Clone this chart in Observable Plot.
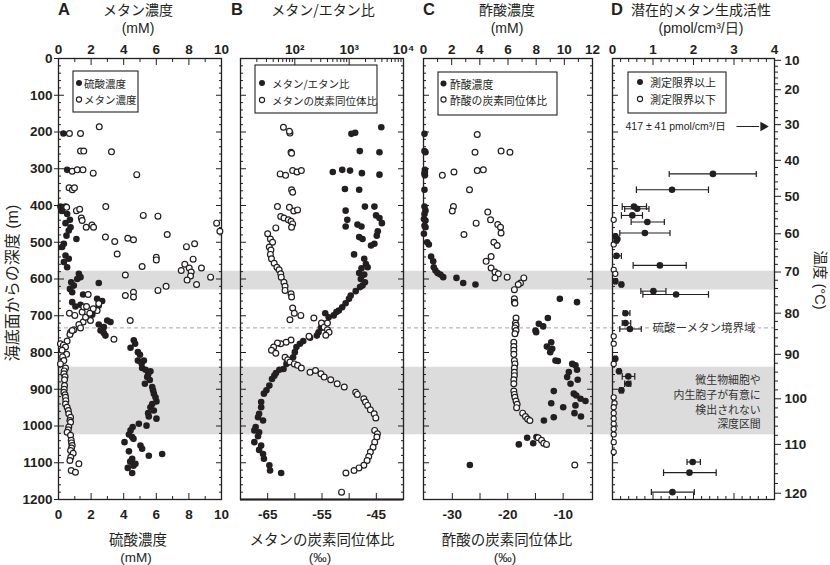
<!DOCTYPE html>
<html><head><meta charset="utf-8">
<script src="https://cdn.jsdelivr.net/npm/d3@7"></script>
<script src="https://cdn.jsdelivr.net/npm/@observablehq/plot@0.6"></script>
<style>
html,body{margin:0;padding:0;background:#fff;}
#chart{position:relative;width:830px;height:565px;overflow:hidden;background:#fff;}
#chart svg{position:absolute;left:0;top:0;}
</style></head><body><div id="chart"></div>
<script>
// ---------------- DATA (depth in m below seafloor) ----------------
// Panel A: sulfate (filled, bottom axis) and methane (open, top axis), [depth, mM]
const sulfateA = [[204,0.3],[303,0.53],[403,0.12],[403,0.43],[415,0.22],[423,0.53],[439,0.7],[448,0.43],[459,0.74],[468,0.63],[482,0.49],[491,1.1],[504,0.33],[513,0.22],
[536,0.43],[545,0.63],[554,0.33],[568,0.53],[586,1.25],[595,1.35],[600,1.15],[609,0.78],[618,0.94],[611,2.47],[627,0.7],[636,0.84],[642,1.51],
[663,0.84],[670,1.35],[675,1.04],[654,2.37],[660,2.68],[672,2.47],[686,2.27],[697,2.07],[713,2.99],[717,3.19],[724,2.47],[731,2.78],[740,2.58],[747,2.78],[754,2.88],
[767,4.62],[776,4.7],[787,4.42],[799,4.87],[806,5.0],[822,4.87],[822,5.24],[830,5.1],[842,5.13],[847,5.34],[851,5.64],[860,5.5],[867,5.44],[875,5.6],[885,5.3],[894,5.75],[903,5.8],[912,5.85],[922,5.95],[933,6.01],[940,5.75],[949,5.64],[958,5.85],[965,5.5],[974,5.54],[980,6.01],[994,4.93],[999,5.4],[1003,4.55],[1012,4.42],[1023,4.32],[1030,4.52],[1035,4.6],[1044,4.05],[1053,5.03],[1062,5.13],[1069,4.32],[1076,6.36],[1081,5.54],[1089,4.52],[1097,4.4],[1103,4.72],[1108,4.6],[1114,4.25],[1128,4.52]];
const methaneA = [[204,0.67],[204,1.35],[186,2.5],[252,1.35],[252,1.55],[254,3.25],
[307,0.84],[303,1.15],[303,1.5],[312,2.13],[316,4.8],[352,0.65],[357,0.85],[352,0.98],
[403,2.9],[414,1.1],[410,1.3],[405,0.5],[427,5.2],[429,6.1],[434,1.4],[441,1.45],[459,1.7],[453,2.05],[459,2.15],
[486,2.88],[498,3.45],[489,4.25],[493,4.6],[479,6.67],[448,9.7],[470,9.9],
[512,7.85],[504,8.35],[532,3.6],[541,6.0],[548,6.0],[546,8.26],
[560,7.75],[570,8.02],[581,8.14],[592,8.1],[603,7.89],[615,8.47],[570,8.77],[577,7.53],[595,9.33],
[566,5.13],[589,4.1],[645,4.1],[636,4.6],[649,4.6],[631,6.1],[620,6.6],[642,1.82],[764,3.4],[713,4.4],
[693,0.67],[699,1.0],[690,1.45],[676,1.55],[675,1.72],[667,2.47],[686,2.37],[681,2.13],[713,1.96],[717,1.51],[724,1.25],[733,1.35],[738,0.94],[745,0.74],[751,0.7],[740,0.84],[704,1.66],[693,1.92],
[769,0.53],[776,0.12],[780,0.3],[785,0.43],[794,0.22],[805,0.5],[812,0.25],[822,0.33],[831,0.12],[842,0.43],[850,0.35],[858,0.33],[866,0.4],[874,0.37],[890,0.37],[900,0.35],[908,0.33],[915,0.4],[922,0.43],[931,0.45],[940,0.43],[949,0.53],[958,0.6],[967,0.63],[976,0.74],[985,0.7],[990,0.74],[1003,0.63],[1010,0.6],[1017,0.53],[1025,0.74],[1039,0.78],[1046,0.8],[1053,0.84],[1060,0.8],[1067,0.74],[1074,0.9],[1085,0.75],[1094,0.7],[1103,1.25],[1121,0.78],[1126,1.04]];

// Panel B: methane/ethane ratio (filled, top log axis) and δ13C-CH4 (open, bottom axis)
const ratioB = [[205,1100],[202,1290],[187,3900],[252,1570],[255,3610],
[309,499],[303,745],[305,1038],[312,1714],[316,3612],[355,836],[357,1528],[403,1950],[403,2913],
[414,861],[439,924],[457,861],[427,3130],[434,3610],[448,4000],[452,1422],[457,1686],[486,1528],[491,1762],[470,3362],[482,3220],[504,2913],[509,2524],[533,1231],
[545,1894],[559,2033],[568,2187],[571,1686],[584,1528],[588,1894],[600,1641],[609,1950],[618,1762],[622,1585],
[633,1320],[645,1067],[654,993],[666,861],[677,745],[686,645],[690,583],[699,520],[704,420],[693,363],
[722,339],[733,302],[745,273],[754,254],[760,191],[769,143],[776,124],[785,107],
[799,100],[813,93],[831,70],[845,62],[847,52],[856,45],[863,42],[872,38],
[890,34],[903,30],[912,27],[935,24],[949,24],[967,22],[976,21],[985,26],[1003,19],[1012,18],[1017,22],[1028,21],[1044,18],[1053,24],[1065,22],[1076,26],[1089,27],[1107,34],[1121,35],[1128,56]];
const isoCH4 = [[187,-62.1],[203,-60.9],[198,-61.0],[255,-60.7],[258,-60.6],
[314,-62.7],[318,-61.7],[305,-60.4],[309,-59.6],[305,-58.8],[357,-60.6],[364,-60.4],
[403,-63.2],[405,-61.0],[415,-60.2],[412,-59.5],[430,-62.6],[434,-62.0],[439,-61.2],[443,-60.7],[450,-60.4],[459,-60.6],
[461,-63.5],[477,-65.0],[491,-64.5],[500,-64.1],[513,-64.7],[521,-64.4],
[533,-64.5],[545,-64.3],[557,-63.8],[568,-63.3],[575,-62.9],[586,-62.6],[595,-62.5],[609,-62.0],[620,-61.8],[631,-61.8],[640,-60.7],[649,-60.6],[679,-60.4],[693,-60.1],[699,-58.9],[711,-60.9],
[706,-56.5],[720,-55.1],[731,-54.6],[738,-54.0],[745,-53.7],[753,-54.3],[720,-54.0],
[756,-57.4],[766,-60.7],[772,-61.6],[776,-62.6],[774,-63.2],[785,-63.9],[794,-64.3],[802,-63.5],
[813,-61.8],[820,-61.3],[826,-60.9],[831,-60.1],[835,-59.5],[842,-58.8],
[854,-57.2],[849,-56.2],[858,-55.2],[867,-54.6],[874,-53.4],[885,-52.2],[894,-50.9],[908,-48.8],[914,-48.5],[926,-47.3],[935,-47.0],[944,-46.6],[956,-46.1],[967,-45.4],[978,-45.1],
[1012,-45.3],[1021,-44.8],[1030,-44.9],[1044,-45.3],[1058,-45.6],[1071,-46.1],[1083,-46.4],[1094,-46.7],[1107,-47.3],[1114,-48.2],[1121,-49.1],[1128,-50.6],[1180,-51.4]];

// Panel C: acetate concentration (filled, top axis) and δ13C-acetate (open, bottom axis)
const acetateC = [[205,0.07],[252,0.07],[255,0.14],[303,0.1],[309,0.1],[313,0.07],[318,0.1],[357,0.07],[403,0.07],[414,0.14],[423,0.07],[437,0.03],[441,0.14],[455,0.07],[459,0.14],[477,0.03],
[500,0.26],[506,0.38],[539,0.54],[552,0.69],[568,0.73],[577,0.85],[584,1.0],[588,1.2],[595,1.4],[597,2.34],[611,2.82],[615,3.69],
[654,9.68],[663,10.9],[706,8.83],[722,8.19],[729,8.5],[740,7.95],[745,8.0],[772,9.07],[784,8.76],[790,9.14],[799,9.0],[822,9.37],[823,9.54],
[831,10.56],[835,10.79],[847,10.9],[853,10.32],[867,10.2],[874,10.95],[885,10.44],[905,9.25],[912,10.67],[917,10.85],[926,11.15],[932,11.5],[938,9.07],[944,10.79],[949,9.92],[965,10.72],[974,11.18],[976,9.25],[985,8.55],
[1030,8.02],[1032,7.36],[1047,7.79],[1050,6.77],[1106,3.29]];
const isoAcetate = [[207,-25.5],[255,-25.9],[252,-21.2],[255,-19.6],[318,-31.8],[309,-29.7],[305,-25.5],[303,-24.4],[357,-26.9],
[403,-29.8],[415,-30.0],[448,-25.7],[479,-27.9],[418,-23.6],[439,-23.1],[452,-21.8],[459,-21.3],[475,-21.2],[500,-22.5],[509,-21.9],
[539,-23.0],[552,-23.9],[570,-23.0],[581,-22.3],[586,-21.7],[597,-22.3],[595,-20.1],[597,-17.1],[611,-17.7],[615,-18.1],[629,-18.8],
[654,-18.8],[663,-18.8],[666,-18.7],[706,-18.5],[720,-18.6],[726,-18.5],[733,-18.7],[740,-18.5],[749,-18.7],
[772,-18.9],[784,-18.9],[794,-18.9],[805,-18.9],[822,-18.8],[831,-18.7],[842,-18.8],[854,-18.8],[863,-18.8],[874,-18.9],[885,-18.9],[905,-18.9],[914,-18.8],[922,-18.7],[932,-18.5],[941,-18.3],[950,-18.4],
[965,-17.3],[974,-16.8],[981,-16.4],[985,-16.0],[1032,-14.5],[1039,-13.9],[1047,-13.5],[1050,-13.0],[1106,-7.9]];

// Panel D: potential methanogenesis, [depth, value, low, high] (above detection limit)
const activityD = [[314,2.48,1.40,3.55],[357,1.47,0.59,2.37],[403,0.53,0.24,0.84],[409,0.61,0.30,0.90],[427,0.49,0.22,0.74],[445,0.86,0.46,1.28],[475,0.80,0.18,1.42],
[484,0.07,0.05,0.10],[491,0.12,0.09,0.15],[495,0.10,0.07,0.13],[537,0.10,0.05,0.22],[563,1.17,0.51,1.82],[606,0.07,0.05,0.10],[615,0.22,0.19,0.25],
[633,1.01,0.70,1.32],[642,1.57,0.75,2.37],[693,0.32,0.27,0.43],[720,0.32,0.24,0.45],[736,0.43,0.18,0.71],[817,0.07,0.05,0.10],
[851,0.16,0.13,0.19],[865,0.39,0.24,0.55],[885,0.39,0.30,0.45],[903,0.22,0.18,0.26],[1098,1.98,1.84,2.17],[1127,1.90,1.26,2.56],[1180,1.48,0.96,2.02]];
// below detection limit, [depth, value]
const belowD = [[439,0.03],[506,0.0],[575,0.03],[586,0.07],[756,0.03],[776,0.0],[831,0.02],[922,0.03],[938,0.05],[949,0.02],[965,0.02],[980,0.03],[994,0.02],[1008,0.02],[1023,0.03],[1044,0.0],[1071,-0.03]];

// Shaded depth intervals, SMTZ depth
const bands = [[579,630],[840,1024]];
const smtzDepth = [733];

// Temperature axis (right of panel D): labels and the depths they sit at
const tempTicks = [10,20,30,40,50,60,70,80,90,100,110,120];
const tempTickDepths = [5,85,180,277,375,477,581,693,805,926,1050,1183];

// tick arrays
const depthTicks = [0,100,200,300,400,500,600,700,800,900,1000,1100,1200];
const aTicks = [0,2,4,6,8,10], aMinor = [1,3,5,7,9];
const ratioTicks = [100,1000,10000], ratioTickLabels = ["10²","10³","10⁴"];
const bIsoTicks = [-65,-60,-55,-50,-45], bIsoLabels = [-65,-55,-45];
const cTicks = [0,2,4,6,8,10,12], cMinor = [1,3,5,7,9,11];
const cIsoTicks = [-30,-25,-20,-15,-10], cIsoLabels = [-30,-20,-10];
const dTicks = [0,1,2,3,4];

// ---------------- LAYOUT ----------------
const W = 830, H = 565, FT = 58, FB = 499;
const INK = "#231f20";
const JP = "'Noto Sans CJK JP','Noto Sans',sans-serif";
const NUM = "'Liberation Sans',Arial,sans-serif";
const MIX = "'Liberation Sans','Noto Sans CJK JP',sans-serif";
const root = document.getElementById("chart");

const depthMinor = d3.range(0, 1201, 20).filter(d => d % 100);
const ratioMinor = [10,100,1000].flatMap(b => d3.range(2,10).map(k => k*b));
const dMinor = d3.range(0, 4.01, 0.2).map(v => +v.toFixed(1)).filter(v => Math.abs(v - Math.round(v)) > 1e-6);
const tempLabel = new Map(tempTickDepths.map((d,i) => [d, String(tempTicks[i])]));
const tempMinor = [];
for (let i = 0; i < tempTickDepths.length - 1; i++)
  for (let j = 1; j < 5; j++) tempMinor.push(tempTickDepths[i] + (tempTickDepths[i+1]-tempTickDepths[i])*j/5);

const tX = (anchor, values, size) => Plot.axisX(values, {anchor, tickSize: -size, fill: "none", stroke: INK, strokeWidth: 1, label: null});
const tY = (anchor, values, size) => Plot.axisY(values, {anchor, tickSize: -size, fill: "none", stroke: INK, strokeWidth: 1, label: null});
const lX = (anchor, values, fmt, pad) => Plot.axisX(values, {anchor, tickSize: 0, tickPadding: pad, tickFormat: fmt, fill: INK, fontSize: 13.5, fontWeight: "bold", fontFamily: NUM, label: null});
const depthSideTicks = (anchor) => [tY(anchor, depthTicks, 6), tY(anchor, depthMinor, 3)];

const filled = (data, xf) => Plot.dot(data, {x: xf, y: d => d[0], r: 3.3, fill: INK, stroke: "none"});
const open = (data, xf) => Plot.dot(data, {x: xf, y: d => d[0], r: 2.9, fill: "white", stroke: INK, strokeWidth: 1.2});

function layer(left, right, x, marks, yAxis = true) {
  const chart = Plot.plot({
    width: W, height: H,
    marginLeft: left, marginRight: W - right, marginTop: FT, marginBottom: H - FB,
    x, y: yAxis ? {domain: [0, 1200], reverse: true} : {domain: [0, 1200], reverse: true, axis: null},
    style: `background:none;overflow:visible;position:absolute;left:0;top:0;font-family:${NUM};color:${INK};`,
    marks
  });
  root.appendChild(chart);
}

// Background: shaded bands and SMTZ dashed line across all panels
layer(57, 774, undefined, [
  Plot.rect(bands, {y1: d => d[0], y2: d => d[1], fill: "#dcdcdc"}),
  Plot.ruleY(smtzDepth, {stroke: "#a6a6a6", strokeWidth: 1, strokeDasharray: "4,3"})
], false);

// Panel A
layer(58, 221, {domain: [0, 10]}, [
  Plot.frame({stroke: INK, strokeWidth: 1.3}),
  tX("top", aTicks, 6), tX("top", aMinor, 3), tX("bottom", aTicks, 6), tX("bottom", aMinor, 3),
  lX("top", aTicks, d => String(d), 5), lX("bottom", aTicks, d => String(d), 10),
  ...depthSideTicks("left"), ...depthSideTicks("right"),
  Plot.axisY(depthTicks, {anchor: "left", tickSize: 4, fill: "none", stroke: INK, label: null}),
  Plot.axisY(depthTicks, {anchor: "left", tickSize: 0, tickPadding: 6, tickFormat: d => String(d), fill: INK, fontSize: 13.5, fontWeight: "bold", fontFamily: NUM, label: null}),
  filled(sulfateA, d => d[1]),
  open(methaneA, d => d[1])
]);

// Panel B (log ratio on top)
layer(240, 403, {type: "log", domain: [10, 10000]}, [
  Plot.frame({stroke: INK, strokeWidth: 1.3}),
  tX("top", ratioTicks, 6), tX("top", ratioMinor, 3),
  lX("top", ratioTicks, d => ratioTickLabels[ratioTicks.indexOf(d)], 5),
  ...depthSideTicks("left"), ...depthSideTicks("right"),
  filled(ratioB, d => d[1])
]);
// Panel B (isotope on bottom)
layer(240, 403, {domain: [-70, -40]}, [
  Plot.ruleY([1200], {stroke: INK, strokeWidth: 2.2}),
  tX("bottom", bIsoTicks, 6),
  lX("bottom", bIsoLabels, d => String(d), 10),
  open(isoCH4, d => d[1])
], false);

// Panel C (acetate conc on top)
layer(423, 592, {domain: [0, 12]}, [
  Plot.frame({stroke: INK, strokeWidth: 1.3}),
  tX("top", cTicks, 6), tX("top", cMinor, 3),
  lX("top", cTicks, d => String(d), 5),
  ...depthSideTicks("left"), ...depthSideTicks("right"),
  filled(acetateC, d => d[1])
]);
// Panel C (isotope on bottom)
layer(423, 592, {domain: [-35.2, -4.7]}, [
  tX("bottom", cIsoTicks, 6),
  lX("bottom", cIsoLabels, d => String(d), 10),
  open(isoAcetate, d => d[1])
], false);

// Panel D
const noteArrow = [{x1: 3.06, x2: 3.62, head: 3.72, depth: 185, label: "417 ± 41 pmol/cm³/日", lx: 0.32}];
const noteSMTZ = [{x: 2.26, depth: smtzDepth[0], label: "硫酸ーメタン境界域"}];
const noteZone = [{x: 3.66, depth: 933, label: "微生物細胞や\n内生胞子が有意に\n検出されない\n深度区間"}];
layer(612, 774, {domain: [0, 4]}, [
  Plot.frame({stroke: INK, strokeWidth: 1.3}),
  tX("top", dTicks, 6), tX("top", dMinor, 3), tX("bottom", dTicks, 6), tX("bottom", dMinor, 3),
  lX("top", dTicks, d => String(d), 5),
  ...depthSideTicks("left"),
  Plot.axisY(tempTickDepths, {anchor: "right", tickSize: 6, fill: "none", stroke: INK, label: null}),
  Plot.axisY(tempMinor, {anchor: "right", tickSize: 3, fill: "none", stroke: INK, label: null}),
  Plot.axisY(tempTickDepths, {anchor: "right", tickSize: 0, tickPadding: 10, tickFormat: d => tempLabel.get(d), fill: INK, fontSize: 13.5, fontWeight: "bold", fontFamily: NUM, label: null}),
  Plot.text(noteSMTZ, {x: "x", y: "depth", text: "label", fill: "#333", stroke: "white", strokeWidth: 7, fontSize: 11.5, fontFamily: JP}),
  Plot.text(noteZone, {x: "x", y: "depth", text: "label", textAnchor: "end", lineHeight: 1.36, fill: "#333", fontSize: 10.9, fontFamily: JP}),
  Plot.text(noteArrow, {x: "lx", y: "depth", text: "label", textAnchor: "start", fill: INK, fontSize: 10.5, fontFamily: MIX}),
  Plot.link(noteArrow, {x1: "x1", x2: "x2", y1: "depth", y2: "depth", stroke: INK, strokeWidth: 1}),
  Plot.dot(noteArrow, {x: "head", y: "depth", symbol: "triangle", rotate: 90, r: 3.6, fill: INK, stroke: "none"}),
  Plot.link(activityD, {x1: d => d[2], x2: d => d[3], y1: d => d[0], y2: d => d[0], stroke: INK, strokeWidth: 1.1, marker: "tick"}),
  Plot.dot(belowD, {x: d => Math.max(d[1], 0.03), y: d => d[0], r: 2.6, fill: "white", stroke: INK, strokeWidth: 1.1}),
  filled(activityD, d => d[1])
]);

// ---------------- TEXT LAYER ----------------
const svg = d3.select(root).append("svg").attr("width", W).attr("height", H).style("overflow", "visible");
function txt(x, y, s, {size = 14, weight = "normal", anchor = "middle", family = JP, rotate = 0, fill = INK} = {}) {
  const t = svg.append("text").attr("x", x).attr("y", y).attr("text-anchor", anchor)
    .attr("dominant-baseline", "central").attr("font-size", size).attr("font-weight", weight)
    .attr("font-family", family).attr("fill", fill).text(s);
  if (rotate) t.attr("transform", `rotate(${rotate},${x},${y})`);
  return t;
}
const titles = [
  {letter: "A", lx: 58, title: "メタン濃度", unit: "(mM)", cx: 138},
  {letter: "B", lx: 231, title: "メタン/エタン比", unit: null, cx: 323},
  {letter: "C", lx: 423, title: "酢酸濃度", unit: "(mM)", cx: 507},
  {letter: "D", lx: 611, title: "潜在的メタン生成活性", unit: "(pmol/cm³/日)", cx: 701}
];
for (const t of titles) {
  txt(t.lx, 9, t.letter, {size: 16.5, weight: "bold", anchor: "start", family: NUM});
  txt(t.cx, 9, t.title, {size: 14});
  if (t.unit) txt(t.cx, 27.5, t.unit, {size: 14, family: NUM});
}
const bottomTitles = [
  {cx: 138, title: "硫酸濃度", unit: "(mM)"},
  {cx: 322, title: "メタンの炭素同位体比", unit: "(‰)"},
  {cx: 507, title: "酢酸の炭素同位体比", unit: "(‰)"}
];
for (const t of bottomTitles) {
  txt(t.cx, 538.5, t.title, {size: 14.5});
  txt(t.cx - 2, 557.5, t.unit, {size: 13.5, family: NUM});
}
txt(12, 283, "海底面からの深度 (m)", {size: 16, rotate: -90, family: MIX});
txt(820, 280, "温度 (°C)", {size: 14.5, rotate: 90, family: MIX});

// legends
const legends = [
  {x: 73, y: 71, w: 65, h: 41, dx: 79, tx: 84, y1: 83, y2: 99.5, size: 10.5, a: "硫酸濃度", b: "メタン濃度"},
  {x: 255, y: 65, w: 122, h: 48, dx: 262, tx: 272, y1: 83, y2: 100, size: 10.5, a: "メタン/エタン比", b: "メタンの炭素同位体比"},
  {x: 438, y: 72, w: 119, h: 43, dx: 443.5, tx: 450, y1: 83.5, y2: 99.5, size: 10.8, a: "酢酸濃度", b: "酢酸の炭素同位体比"},
  {x: 628, y: 72, w: 98, h: 41, dx: 640, tx: 650, y1: 82, y2: 99, size: 11, a: "測定限界以上", b: "測定限界以下"}
];
for (const L of legends) {
  svg.append("rect").attr("x", L.x).attr("y", L.y).attr("width", L.w).attr("height", L.h)
    .attr("fill", "white").attr("stroke", INK).attr("stroke-width", 1.1);
  svg.append("circle").attr("cx", L.dx).attr("cy", L.y1).attr("r", 3).attr("fill", INK);
  svg.append("circle").attr("cx", L.dx).attr("cy", L.y2).attr("r", 2.6).attr("fill", "white").attr("stroke", INK).attr("stroke-width", 1.1);
  txt(L.tx, L.y1, L.a, {size: L.size, anchor: "start"});
  txt(L.tx, L.y2, L.b, {size: L.size, anchor: "start"});
}
</script></body></html>
